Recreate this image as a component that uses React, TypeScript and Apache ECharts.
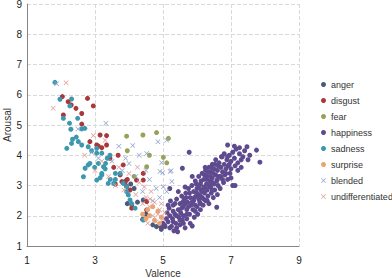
import React, { useEffect, useRef } from "react";
import * as echarts from "echarts";

const categories = ["anger", "disgust", "fear", "happiness", "sadness", "surprise", "blended", "undifferentiated"];
const colors = ["#4A5A78", "#A8383B", "#98A05A", "#5E4A8E", "#3D97AE", "#E8A56F", "#8FA6CC", "#E39C9C"];

const anger = [
  [3.9, 3.15], [4.05, 3.05], [4.25, 2.45], [4.42, 2.52], [4.5, 2.05], [4.4, 1.88], [4.81, 1.64],
  [5.06, 1.64], [4.7, 1.7], [3.95, 2.4], [4.15, 2.9], [4.95, 1.55],
];
const disgust = [
  [2.04, 5.94], [2.21, 5.77], [2.3, 5.66], [2.44, 5.55], [2.07, 5.33], [2.61, 5.38], [2.61, 5.03],
  [2.78, 5.88], [2.95, 5.63], [3.15, 4.67], [3.34, 4.65], [2.85, 4.45], [3.05, 4.34], [3.1, 4.3],
  [3.2, 4.25], [3.34, 4.34], [3.44, 3.9], [3.55, 3.6], [3.68, 4.0], [3.83, 3.68], [3.74, 3.35],
  [3.79, 3.13], [3.88, 3.07], [3.93, 2.97], [4.03, 2.85], [4.08, 2.36], [4.08, 2.25], [4.22, 3.18],
  [4.42, 3.18], [4.52, 2.47], [4.52, 2.19], [4.42, 3.4], [3.6, 3.05], [3.95, 3.2],
];
const fear = [
  [3.93, 4.63], [4.41, 4.67], [4.81, 4.75], [5.16, 4.56], [3.95, 4.15], [4.6, 4.0], [5.01, 3.93],
  [5.11, 3.75], [4.52, 3.62], [4.15, 3.3],
];
const happiness = [
  [4.95, 1.62], [5.0, 1.75], [5.05, 1.68], [5.1, 1.9], [5.12, 2.1], [5.15, 1.8], [5.2, 2.0], [5.18, 2.25],
  [5.22, 2.49], [5.25, 1.65], [5.28, 1.9], [5.3, 2.15], [5.3, 2.35], [5.32, 1.5], [5.35, 2.05], [5.38, 1.75],
  [5.4, 2.55], [5.43, 1.47], [5.45, 2.2], [5.47, 1.95], [5.5, 2.4], [5.5, 1.7], [5.52, 2.1], [5.55, 2.65],
  [5.57, 1.85], [5.6, 2.3], [5.6, 2.0], [5.62, 2.55], [5.65, 1.6], [5.67, 2.75], [5.7, 2.2], [5.7, 1.9],
  [5.72, 2.45], [5.75, 2.9], [5.78, 2.05], [5.8, 2.6], [5.8, 1.75], [5.82, 2.35], [5.85, 3.0], [5.86, 1.66],
  [5.88, 2.2], [5.9, 2.8], [5.9, 2.5], [5.92, 1.95], [5.95, 3.15], [5.97, 2.65], [6.0, 2.3], [6.0, 2.9],
  [6.02, 2.05], [6.05, 3.3], [6.05, 2.7], [6.08, 2.45], [6.1, 3.05], [6.1, 2.2], [6.12, 2.85], [6.15, 3.4],
  [6.15, 2.6], [6.18, 2.35], [6.2, 3.2], [6.2, 2.95], [6.22, 2.75], [6.25, 3.5], [6.25, 2.5], [6.28, 3.05],
  [6.3, 2.85], [6.3, 3.3], [6.32, 2.65], [6.35, 3.6], [6.35, 2.4], [6.38, 3.15], [6.4, 2.95], [6.4, 3.45],
  [6.42, 2.75], [6.45, 3.7], [6.45, 3.25], [6.48, 2.6], [6.5, 3.05], [6.5, 3.55], [6.52, 2.85], [6.55, 3.35],
  [6.55, 3.85], [6.58, 3.15], [6.6, 2.7], [6.6, 3.5], [6.62, 3.0], [6.65, 3.75], [6.65, 3.3], [6.68, 2.9],
  [6.7, 3.6], [6.72, 3.95], [6.75, 3.2], [6.75, 3.45], [6.78, 3.1], [6.8, 3.7], [6.8, 4.05], [6.82, 3.35],
  [6.85, 3.55], [6.88, 3.85], [6.9, 4.34], [6.9, 3.2], [6.92, 3.65], [6.95, 4.0], [6.97, 3.4], [7.0, 3.8],
  [7.0, 3.55], [7.05, 4.1], [7.05, 3.0], [7.12, 3.0], [7.1, 3.9], [7.12, 3.65], [7.15, 4.2], [7.2, 3.75],
  [7.25, 4.05], [7.3, 3.6], [7.35, 3.95], [7.4, 4.15], [7.47, 4.28], [7.5, 3.85], [7.55, 4.0], [7.75, 4.17],
  [7.85, 3.77], [5.77, 4.1], [5.57, 3.57], [5.2, 2.9], [6.24, 3.6], [6.74, 3.95], [6.58, 2.28], [5.86, 3.3],
  [5.45, 2.8], [5.65, 2.95], [5.75, 2.3], [5.85, 2.45], [5.95, 2.35], [6.05, 2.55], [6.15, 2.8], [6.25, 2.9],
  [6.35, 3.0], [6.45, 3.1], [6.2, 2.55], [6.1, 2.65], [6.0, 2.75], [5.92, 2.6], [6.28, 3.2], [6.38, 3.3],
  [6.48, 3.4], [6.05, 2.95], [5.98, 3.05], [6.12, 3.15], [6.22, 3.35], [6.32, 3.45], [6.42, 3.6],
  [5.55, 2.25], [5.65, 2.4], [5.35, 2.4], [5.4, 2.0], [5.5, 1.85], [5.6, 1.75], [5.7, 2.05], [5.78, 2.75],
  [5.68, 2.6], [5.58, 2.45], [6.7, 3.3], [6.6, 3.2], [6.85, 3.4], [7.0, 3.25], [6.95, 3.7], [7.2, 3.5],
  [7.3, 3.85], [6.62, 3.65], [6.53, 3.7], [6.9, 3.95], [7.1, 4.3], [7.25, 4.25], [6.3, 2.5], [6.45, 2.85],
  [5.95, 2.15], [6.1, 2.4], [5.3, 1.8], [5.2, 1.6], [5.4, 1.6], [5.15, 2.35],
];
const sadness = [
  [1.82, 6.41], [1.97, 5.85], [2.31, 5.86], [2.26, 5.63], [2.07, 5.22], [2.49, 5.22], [2.25, 5.06],
  [2.29, 4.86], [2.61, 4.87], [2.7, 4.89], [2.34, 4.53], [2.17, 4.23], [2.31, 4.39], [2.51, 4.45],
  [2.61, 4.34], [2.8, 4.28], [3.05, 4.23], [3.05, 4.07], [3.2, 4.07], [2.71, 3.57], [2.8, 3.68],
  [2.85, 3.73], [2.99, 3.6], [3.1, 3.73], [2.66, 3.29], [3.05, 3.18], [3.2, 3.35], [3.2, 3.4],
  [3.25, 3.62], [3.31, 3.73], [3.36, 3.9], [3.39, 3.07], [3.55, 3.07], [3.6, 3.2], [3.83, 3.07],
  [3.93, 2.96], [3.93, 2.8], [3.98, 2.69], [4.03, 2.52], [4.08, 2.4], [4.18, 2.25], [4.42, 1.86],
  [3.44, 4.0], [3.74, 3.4], [3.6, 3.4], [3.15, 3.25], [3.3, 3.55], [2.9, 4.15], [2.45, 4.6], [3.45, 3.2],
];
const surprise = [
  [4.6, 2.0], [4.75, 1.85], [4.85, 2.15], [4.5, 1.9], [4.95, 1.95], [4.7, 2.3], [4.55, 2.2], [4.9, 1.75], [4.4, 2.05],
];
const blended = [
  [1.87, 6.36], [2.5, 4.87], [3.32, 5.06], [2.9, 4.1], [3.1, 3.9], [3.5, 3.8], [3.8, 3.5], [4.0, 3.73],
  [4.11, 4.32], [4.3, 4.0], [4.52, 4.06], [4.5, 3.5], [4.6, 3.2], [4.8, 2.9], [4.9, 2.6], [4.99, 3.42],
  [5.24, 3.49], [5.21, 3.46], [4.91, 3.46], [5.26, 3.13], [5.01, 2.96], [5.11, 2.8], [5.11, 4.5],
  [4.96, 3.75], [4.7, 2.5], [4.4, 2.8], [3.9, 3.9], [4.2, 3.3], [4.85, 4.45], [3.7, 4.3],
];
const undifferentiated = [
  [2.15, 6.4], [1.77, 5.55], [2.95, 4.65], [3.3, 4.5], [3.0, 3.5], [3.4, 3.3], [3.6, 3.0], [3.7, 3.6],
  [4.0, 3.4], [4.2, 2.7], [4.3, 3.1], [4.5, 2.6], [4.6, 2.3], [4.7, 2.0], [4.8, 1.8], [4.9, 2.2],
  [5.0, 1.9], [4.65, 2.8], [4.4, 2.4], [4.75, 2.45], [4.85, 2.05], [3.85, 2.85], [3.2, 3.8], [2.7, 4.0],
  [4.55, 1.75], [4.95, 2.4], [4.62, 2.55], [4.45, 2.95], [5.05, 2.1], [4.25, 3.6],
];

const seriesData = [anger, disgust, fear, happiness, sadness, surprise, blended, undifferentiated];
const xIcon = "path://M0,1L1,0L5,4L9,0L10,1L6,5L10,9L9,10L5,6L1,10L0,9L4,5Z";

export default function App() {
  const ref = useRef<HTMLDivElement>(null);
  useEffect(() => {
    if (!ref.current) return;
    const chart = echarts.init(ref.current, null, { renderer: "svg" });
    const font = "'Liberation Sans', Arial, sans-serif";
    chart.setOption({
      animation: false,
      textStyle: { fontFamily: font },
      grid: { left: 27, top: 4, width: 272, height: 242, outerBoundsMode: "none", containLabel: false },
      legend: {
        orient: "vertical",
        left: 316,
        top: 75,
        itemWidth: 5,
        itemHeight: 5,
        itemGap: 7,
        textStyle: { fontSize: 9, color: "#333", fontFamily: font },
        data: categories.map((c, i) => ({ name: c, icon: i >= 6 ? xIcon : "circle" })),
      },
      xAxis: {
        type: "value",
        min: 1,
        max: 9,
        interval: 2,
        name: "Valence",
        nameLocation: "middle",
        nameGap: 22,
        nameMoveOverlap: false,
        nameTextStyle: { fontSize: 10, color: "#333" },
        axisLine: { show: true, lineStyle: { color: "#868686" } },
        axisTick: { show: false },
        axisLabel: { fontSize: 10, color: "#222", margin: 9 },
        splitLine: { show: true, lineStyle: { color: "#d9d9d9", type: "dashed" } },
      },
      yAxis: {
        type: "value",
        min: 1,
        max: 9,
        interval: 1,
        name: "Arousal",
        nameLocation: "middle",
        nameGap: 15,
        nameMoveOverlap: false,
        nameTextStyle: { fontSize: 10, color: "#333" },
        axisLine: { show: true, lineStyle: { color: "#868686" } },
        axisTick: { show: false },
        axisLabel: { fontSize: 10, color: "#222", margin: 5 },
        splitLine: { show: true, lineStyle: { color: "#d9d9d9", type: "dashed" } },
      },
      series: categories.map((c, i) => ({
        name: c,
        type: "scatter",
        data: seriesData[i],
        symbol: i >= 6 ? xIcon : "circle",
        symbolSize: 5,
        itemStyle: { color: colors[i], opacity: 1 },
      })),
    });
    return () => chart.dispose();
  }, []);
  return <div ref={ref} style={{ width: 392, height: 278, position: "absolute", left: 0, top: 0 }} />;
}
